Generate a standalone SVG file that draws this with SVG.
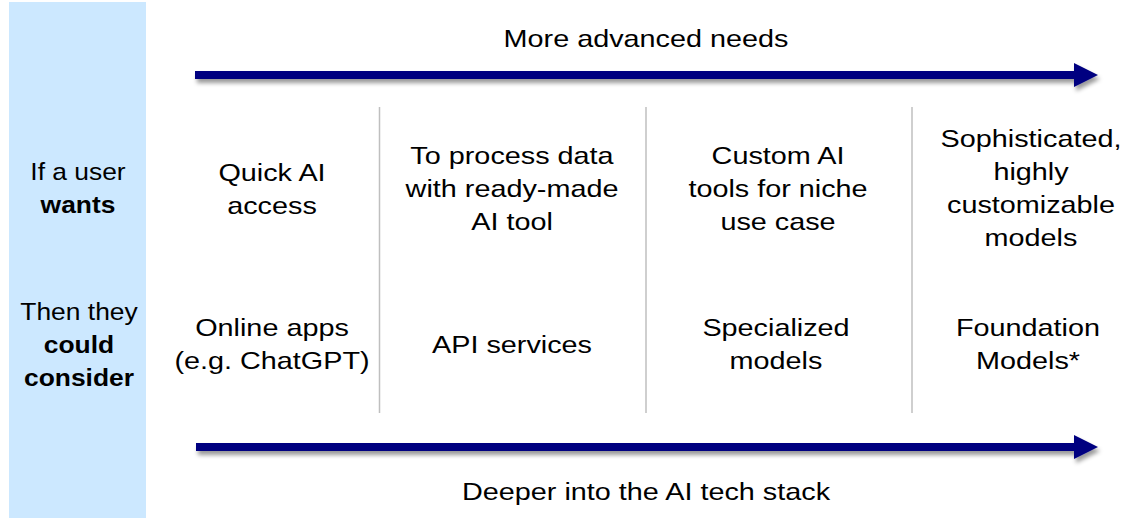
<svg xmlns="http://www.w3.org/2000/svg" width="1135" height="518" viewBox="0 0 1135 518">
<style>
text{font-family:"Liberation Sans",Arial,sans-serif;font-size:24px;fill:#000;text-anchor:middle}
.b{font-weight:bold}
.div{stroke:#BFBFBF;stroke-width:1.5}
.arr{fill:#000080}
</style>
<defs>
<filter id="sh" x="-5%" y="-50%" width="110%" height="250%">
<feDropShadow dx="2" dy="4" stdDeviation="2" flood-color="#000" flood-opacity="0.4"/>
</filter>
</defs>
<rect width="1135" height="518" fill="#fff"/>
<g id="side-panel">
<rect x="9" y="2" width="137" height="516" fill="#CCE8FF"/>
<text transform="translate(78,180) scale(1.1,1)">If a user</text>
<text class="b" transform="translate(78,213) scale(1.1,1)">wants</text>
<text transform="translate(79,320) scale(1.1,1)">Then they</text>
<text class="b" transform="translate(79,353) scale(1.1,1)">could</text>
<text class="b" transform="translate(79,386) scale(1.1,1)">consider</text>
</g>
<g id="connectors">
<path class="arr" filter="url(#sh)" d="M195,71 H1074 V63 L1098,75 L1074,87 V79 H195 Z"/>
<path class="arr" filter="url(#sh)" d="M196,443 H1074 V435 L1098,447 L1074,459 V451 H196 Z"/>
<line class="div" x1="379.5" y1="107" x2="379.5" y2="413"/>
<line class="div" x1="646" y1="107" x2="646" y2="413"/>
<line class="div" x1="912" y1="107" x2="912" y2="413"/>
</g>
<g id="top-label"><text transform="translate(646,47) scale(1.2,1)">More advanced needs</text></g>
<g id="bottom-label"><text transform="translate(646,500) scale(1.2,1)">Deeper into the AI tech stack</text></g>
<g id="col1">
<text transform="translate(272,181) scale(1.2,1)">Quick AI</text>
<text transform="translate(272,214) scale(1.2,1)">access</text>
<text transform="translate(272,336) scale(1.2,1)">Online apps</text>
<text transform="translate(272,369) scale(1.2,1)">(e.g. ChatGPT)</text>
</g>
<g id="col2">
<text transform="translate(512,164) scale(1.2,1)">To process data</text>
<text transform="translate(512,197) scale(1.2,1)">with ready-made</text>
<text transform="translate(512,230) scale(1.2,1)">AI tool</text>
<text transform="translate(512,353) scale(1.2,1)">API services</text>
</g>
<g id="col3">
<text transform="translate(778,164) scale(1.2,1)">Custom AI</text>
<text transform="translate(778,197) scale(1.2,1)">tools for niche</text>
<text transform="translate(778,230) scale(1.2,1)">use case</text>
<text transform="translate(776,336) scale(1.2,1)">Specialized</text>
<text transform="translate(776,369) scale(1.2,1)">models</text>
</g>
<g id="col4">
<text transform="translate(1031,147) scale(1.2,1)">Sophisticated,</text>
<text transform="translate(1031,180) scale(1.2,1)">highly</text>
<text transform="translate(1031,213) scale(1.2,1)">customizable</text>
<text transform="translate(1031,246) scale(1.2,1)">models</text>
<text transform="translate(1028,336) scale(1.2,1)">Foundation</text>
<text transform="translate(1028,369) scale(1.2,1)">Models*</text>
</g>
</svg>
